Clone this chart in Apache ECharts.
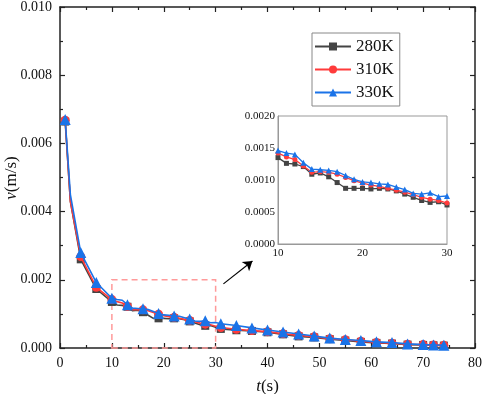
<!DOCTYPE html>
<html>
<head>
<meta charset="utf-8">
<script src="https://cdn.jsdelivr.net/npm/echarts@6/dist/echarts.min.js"></script>
<style>
  html, body { margin: 0; padding: 0; background: #fff; }
  #chart { width: 484px; height: 394px; }
</style>
</head>
<body>
<div id="chart"></div>
<script>
// sampled times (s) before and after the zoomed window
var tEarly = [1, 2, 4, 7];
var tInset = [10, 11, 12, 13, 14, 15, 16, 17, 18, 19, 20, 21, 22, 23, 24, 25, 26, 27, 28, 29, 30];
var tLate = [31, 34, 37, 40, 43, 46, 49, 52, 55, 58, 61, 64, 67, 70, 72, 74];

// v (m/s)
var v280Early = [0.00664, 0.0043, 0.0026, 0.00173];
var v310Early = [0.00668, 0.0043, 0.00268, 0.00178];
var v330Early = [0.0067, 0.0045, 0.0028, 0.00192];

var v280Inset = [0.00135, 0.00126, 0.00125, 0.00121, 0.00109, 0.00111, 0.00105, 0.00096, 0.00087, 0.00087, 0.00087,
  0.00086, 0.00087, 0.00086, 0.00083, 0.00078, 0.00073, 0.00068, 0.00065, 0.00066, 0.00061];
var v310Inset = [0.00142, 0.00136, 0.00132, 0.00122, 0.00112, 0.00113, 0.00112, 0.00109, 0.00104, 0.00099, 0.00095,
  0.00092, 0.0009, 0.00087, 0.00084, 0.00081, 0.00077, 0.00073, 0.0007, 0.00068, 0.00064];
var v330Inset = [0.00146, 0.00142, 0.0014, 0.00127, 0.00117, 0.00116, 0.00115, 0.00113, 0.00107, 0.00101, 0.00097,
  0.00096, 0.00094, 0.00093, 0.00089, 0.00085, 0.00079, 0.00078, 0.0008, 0.00074, 0.00075];

var v280Late = [0.00056, 0.00052, 0.0005, 0.00046, 0.0004, 0.00034, 0.00031, 0.00026, 0.00022, 0.00018, 0.00015, 0.00013, 0.0001, 0.00009, 0.00008, 0.00007];
var v310Late = [0.0006, 0.00055, 0.00051, 0.00048, 0.00042, 0.00037, 0.00033, 0.00027, 0.00024, 0.0002, 0.00016, 0.00014, 0.00011, 0.0001, 0.00009, 0.00008];
var v330Late = [0.00071, 0.00066, 0.00059, 0.00053, 0.00047, 0.00041, 0.00035, 0.00029, 0.00025, 0.00022, 0.00018, 0.00016, 0.00012, 0.0001, 0.00009, 0.00008];

var names = ['280K', '310K', '330K'];
var colors = ['#444444', '#ff3b3b', '#1a73e8'];
var symbols = ['rect', 'circle', 'triangle'];
var mainSizes = [8, 9, 11];
var insetSizes = [5, 5, 6];

function pairs(ts, vs) {
  return ts.map(function (t, i) { return [t, vs[i]]; });
}

var mainData = [
  pairs(tEarly.concat(tInset, tLate), v280Early.concat(v280Inset, v280Late)),
  pairs(tEarly.concat(tInset, tLate), v310Early.concat(v310Inset, v310Late)),
  pairs(tEarly.concat(tInset, tLate), v330Early.concat(v330Inset, v330Late))
];
var insetData = [pairs(tInset, v280Inset), pairs(tInset, v310Inset), pairs(tInset, v330Inset)];

var font = 'Liberation Serif';
var chart = echarts.init(document.getElementById('chart'));

var series = [];
names.forEach(function (n, i) {
  var s = {
    name: n,
    type: 'line',
    xAxisIndex: 0,
    yAxisIndex: 0,
    data: mainData[i],
    symbol: symbols[i],
    symbolSize: function (val) {
      var t = val[0];
      return ((t - 1) % 3 === 0 || t > 70) ? mainSizes[i] : 0;
    },
    showAllSymbol: true,
    lineStyle: { color: colors[i], width: 1.6 },
    itemStyle: { color: colors[i] },
    z: 3 + i
  };
  if (i === 0) {
    s.markArea = {
      silent: true,
      itemStyle: { color: 'rgba(0,0,0,0)', borderColor: '#ff9a9a', borderWidth: 1.5, borderType: [6, 4] },
      data: [[{ coord: [10, 0] }, { coord: [30, 0.002] }]]
    };
    s.markLine = {
      silent: true,
      symbol: ['none', 'arrow'],
      symbolSize: 9,
      label: { show: false },
      lineStyle: { color: '#000', width: 1.2, type: 'solid' },
      data: [[{ coord: [31.5, 0.00188] }, { coord: [37.1, 0.00255] }]]
    };
  }
  series.push(s);
});
names.forEach(function (n, i) {
  series.push({
    name: 'inset ' + n,
    type: 'line',
    xAxisIndex: 2,
    yAxisIndex: 2,
    data: insetData[i],
    symbol: symbols[i],
    symbolSize: insetSizes[i],
    lineStyle: { color: colors[i], width: 1.3 },
    itemStyle: { color: colors[i] },
    z: 10 + i
  });
});

var axisLabel = { fontFamily: font, fontSize: 14, color: '#111' };
var mainLine = { show: true, onZero: false, lineStyle: { color: '#222', width: 1.5 } };
var italicRich = { i: { fontFamily: font, fontSize: 17, fontStyle: 'italic', fill: '#111', color: '#111' } };

chart.setOption({
  animation: false,
  backgroundColor: '#fff',
  legend: {
    data: names,
    orient: 'vertical',
    left: 312,
    top: 33,
    itemWidth: 36,
    itemHeight: 10,
    itemGap: 6,
    padding: [5, 6, 5, 2],
    borderColor: '#888',
    borderWidth: 1,
    textStyle: { fontFamily: font, fontSize: 17, color: '#111' }
  },
  // y-axis title, placed by hand
  graphic: [{
    type: 'text',
    x: 12,
    y: 178,
    rotation: Math.PI / 2,
    style: {
      text: '{i|v}(m/s)',
      font: '17px "Liberation Serif"',
      fill: '#111',
      align: 'center',
      verticalAlign: 'middle',
      rich: italicRich
    }
  }],
  grid: [
    { left: 60, right: 9, top: 7, bottom: 46, containLabel: false, outerBoundsMode: 'none' },
    { left: 60, right: 9, top: 7, bottom: 46, containLabel: false, outerBoundsMode: 'none' },
    { left: 278, top: 116, width: 169, height: 128, show: true, borderColor: '#999', borderWidth: 1, backgroundColor: '#fff', z: 8, containLabel: false, outerBoundsMode: 'none' }
  ],
  xAxis: [
    {
      gridIndex: 0, type: 'value', min: 0, max: 80, interval: 10,
      name: '{i|t}(s)', nameLocation: 'middle', nameGap: 30,
      nameTextStyle: { fontFamily: font, fontSize: 17, color: '#111', rich: italicRich },
      axisLine: mainLine,
      axisTick: { inside: true, length: 5, lineStyle: { color: '#222', width: 1.2 } },
      minorTick: { show: true, splitNumber: 2, length: 3, lineStyle: { color: '#222', width: 1.2 } },
      splitLine: { show: false },
      axisLabel: axisLabel
    },
    {
      gridIndex: 1, type: 'value', position: 'top', min: 0, max: 80, interval: 10,
      axisLine: mainLine,
      axisTick: { inside: true, length: 5, lineStyle: { color: '#222', width: 1.2 } },
      minorTick: { show: true, splitNumber: 2, length: 3, lineStyle: { color: '#222', width: 1.2 } },
      splitLine: { show: false },
      axisLabel: { show: false }
    },
    {
      gridIndex: 2, type: 'value', min: 10, max: 30, interval: 10,
      axisLine: { show: true, onZero: false, lineStyle: { color: '#999', width: 1 } },
      axisTick: { show: false },
      splitLine: { show: false },
      axisLabel: { fontFamily: font, fontSize: 11, color: '#111', margin: 4 },
      z: 9
    }
  ],
  yAxis: [
    {
      gridIndex: 0, type: 'value', min: 0, max: 0.01, interval: 0.002,
      axisLine: mainLine,
      axisTick: { inside: true, length: 5, lineStyle: { color: '#222', width: 1.2 } },
      minorTick: { show: true, splitNumber: 2, length: 3, lineStyle: { color: '#222', width: 1.2 } },
      splitLine: { show: false },
      axisLabel: Object.assign({ formatter: function (v) { return v.toFixed(3); } }, axisLabel)
    },
    {
      gridIndex: 1, type: 'value', position: 'right', min: 0, max: 0.01, interval: 0.002,
      axisLine: mainLine,
      axisTick: { inside: true, length: 5, lineStyle: { color: '#222', width: 1.2 } },
      minorTick: { show: true, splitNumber: 2, length: 3, lineStyle: { color: '#222', width: 1.2 } },
      splitLine: { show: false },
      axisLabel: { show: false }
    },
    {
      gridIndex: 2, type: 'value', min: 0, max: 0.002, interval: 0.0005,
      axisLine: { show: true, onZero: false, lineStyle: { color: '#999', width: 1 } },
      axisTick: { show: false },
      splitLine: { show: false },
      axisLabel: { fontFamily: font, fontSize: 11, color: '#111', margin: 3, formatter: function (v) { return v.toFixed(4); } },
      z: 9
    }
  ],
  series: series
});
</script>
</body>
</html>
